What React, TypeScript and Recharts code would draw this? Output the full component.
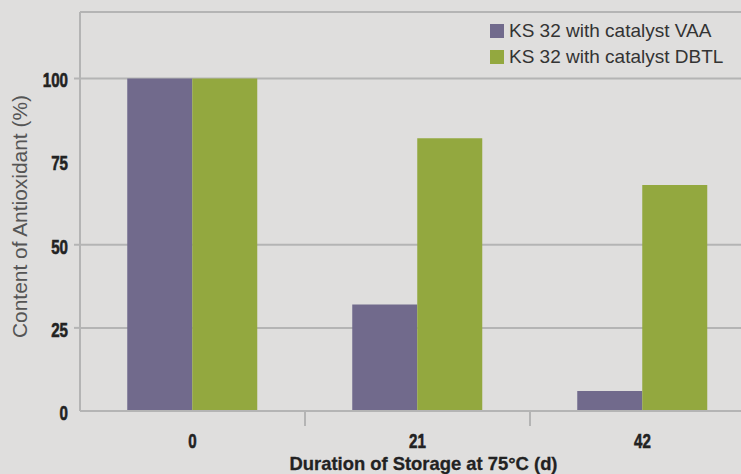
import { BarChart, Bar, XAxis, YAxis, CartesianGrid, Legend, Label } from "recharts";

const categories = ["0", "21", "42"];
const vaaValues = [100, 32, 6];
const dbtlValues = [100, 82, 68];
const yTicks = [0, 25, 50, 75, 100];
const gridValues = [25, 50, 100, 120];
const seriesNames = ["KS 32 with catalyst VAA", "KS 32 with catalyst DBTL"];

const data = categories.map((day, i) => ({
  day,
  vaa: vaaValues[i],
  dbtl: dbtlValues[i],
}));

const PURPLE = "#716a8c";
const GREEN = "#93a83f";
const LINE = "#b4b4b4";
const BG = "#dfdedd";
const SANS = "'Liberation Sans', Arial, sans-serif";

const CHART_W = 760;
const CHART_H = 474;
const Y_W = 80;
const MARGIN = { top: 12, right: 5, left: 0, bottom: 0 };
const PLOT_W = CHART_W - Y_W - MARGIN.left - MARGIN.right;
const HALF_BAND = PLOT_W / categories.length / 2;

// condensed bold digits, squeezed horizontally
function Num({ x, y, dy, anchor, children }: any) {
  return (
    <text
      transform={`translate(${x},${y}) scale(0.72,1)`}
      x={0}
      y={dy}
      textAnchor={anchor}
      fill="#222"
      stroke="#222"
      strokeWidth={0.6}
      fontSize={21}
      fontWeight="bold"
      fontFamily={SANS}
    >
      {children}
    </text>
  );
}

function YTick({ x, y, payload }: any) {
  const v = payload.value;
  return (
    <g>
      <Num x={x} y={y} dy={8.8} anchor="end">
        {v}
      </Num>
      {v !== 0 && v !== 75 && (
        <line x1={x + 6} x2={x + 12} y1={y} y2={y} stroke={LINE} strokeWidth={2} />
      )}
    </g>
  );
}

function XTick({ x, y, payload, index }: any) {
  return (
    <g>
      <Num x={x} y={y} dy={37} anchor="middle">
        {payload.value}
      </Num>
      {index < categories.length - 1 && (
        <line
          x1={x + HALF_BAND}
          x2={x + HALF_BAND}
          y1={y + 1}
          y2={y + 15}
          stroke={LINE}
          strokeWidth={2}
        />
      )}
    </g>
  );
}

function XTitle({ viewBox }: any) {
  return (
    <text
      x={viewBox.x + viewBox.width / 2 + 6}
      y={viewBox.y + 59}
      textAnchor="middle"
      textLength={268}
      lengthAdjust="spacingAndGlyphs"
      fill="#222"
      stroke="#222"
      strokeWidth={0.3}
      fontSize={18.5}
      fontWeight="bold"
      fontFamily={SANS}
    >
      Duration of Storage at 75°C (d)
    </text>
  );
}

function YLabel({ viewBox }: any) {
  const cx = viewBox.x + 27;
  const cy = viewBox.y + viewBox.height / 2 + 5;
  return (
    <text
      x={cx}
      y={cy}
      transform={`rotate(-90, ${cx}, ${cy})`}
      textAnchor="middle"
      textLength={243}
      lengthAdjust="spacingAndGlyphs"
      fill="#555"
      fontSize={20}
      fontFamily={SANS}
    >
      Content of Antioxidant (%)
    </text>
  );
}

function LegendBox({ payload }: any) {
  return (
    <div style={{ fontFamily: SANS, fontSize: 19, color: "#333" }}>
      {(payload || []).map((p: any) => (
        <div key={p.value} style={{ display: "flex", alignItems: "center", height: 26 }}>
          <span
            style={{
              display: "inline-block",
              width: 14,
              height: 14,
              background: p.color,
              marginRight: 5,
            }}
          />
          <span style={{ whiteSpace: "nowrap" }}>{p.value}</span>
        </div>
      ))}
    </div>
  );
}

export default function App() {
  return (
    <div
      style={{
        position: "absolute",
        left: 0,
        top: 0,
        width: 741,
        height: 474,
        overflow: "hidden",
        background: BG,
      }}
    >
      <BarChart
        width={CHART_W}
        height={CHART_H}
        data={data}
        margin={MARGIN}
        barGap={0}
        barCategoryGap="21%"
      >
        <CartesianGrid
          vertical={false}
          horizontalValues={gridValues}
          stroke={LINE}
          strokeWidth={2}
        />
        <XAxis
          dataKey="day"
          height={63}
          interval={0}
          tickSize={0}
          tickMargin={0}
          tickLine={false}
          axisLine={{ stroke: LINE, strokeWidth: 2 }}
          tick={<XTick />}
        >
          <Label content={<XTitle />} />
        </XAxis>
        <YAxis
          width={Y_W}
          domain={[0, 120]}
          ticks={yTicks}
          interval={0}
          tickSize={0}
          tickMargin={12}
          tickLine={false}
          axisLine={{ stroke: LINE, strokeWidth: 2 }}
          tick={<YTick />}
        >
          <Label content={<YLabel />} />
        </YAxis>
        <Legend
          layout="vertical"
          align="center"
          verticalAlign="middle"
          itemSorter={(item: any) => seriesNames.indexOf(item.value)}
          wrapperStyle={{ top: 18, left: 490, width: "auto" }}
          content={<LegendBox />}
        />
        <Bar dataKey="vaa" name={seriesNames[0]} fill={PURPLE} isAnimationActive={false} />
        <Bar dataKey="dbtl" name={seriesNames[1]} fill={GREEN} isAnimationActive={false} />
      </BarChart>
    </div>
  );
}
